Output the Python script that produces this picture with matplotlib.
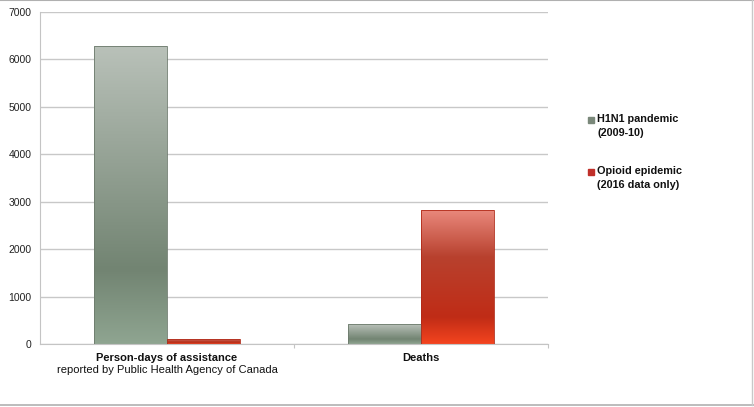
import matplotlib.pyplot as plt
import numpy as np
from matplotlib.colors import LinearSegmentedColormap
from matplotlib.patches import Rectangle

categories = ['Person-days of assistance', 'Deaths']
subtitles = ['reported by Public Health Agency of Canada', '']
h1n1 = [6280, 420]
opioid = [100, 2815]
series_names = ['H1N1 pandemic\n(2009-10)', 'Opioid epidemic\n(2016 data only)']

plt.rcParams['font.family'] = ['Liberation Sans', 'DejaVu Sans']

fig = plt.figure(figsize=(7.54, 4.07), dpi=100)
ax = fig.add_axes([40 / 754, 63 / 407, 508 / 754, 332 / 407])

gray_cmap = LinearSegmentedColormap.from_list(
    'g', [(0, '#b9c1b9'), (0.75, '#728472'), (1, '#8fa591')])
red_cmap = LinearSegmentedColormap.from_list(
    'r', [(0, '#e9887c'), (0.35, '#b8412e'), (0.8, '#c02c16'), (1, '#f4441f')])

x = np.arange(len(categories))
w = 0.287
b1 = ax.bar(x - w / 2, h1n1, w, color='none', edgecolor='#6c7a6c', linewidth=0.6, zorder=3)
b2 = ax.bar(x + w / 2, opioid, w, color='none', edgecolor='#b02a18', linewidth=0.6, zorder=3)

grad = np.linspace(0, 1, 256).reshape(-1, 1)
for bars, cmap in [(b1, gray_cmap), (b2, red_cmap)]:
    for p in bars:
        x0, y0 = p.get_x(), p.get_y()
        x1, y1 = x0 + p.get_width(), y0 + p.get_height()
        im = ax.imshow(grad, cmap=cmap, extent=(x0, x1, y0, y1), aspect='auto',
                       origin='upper', zorder=2)
        im.set_clip_path(p)

ax.set_xlim(-0.5, 1.5)
ax.set_ylim(0, 7000)
ax.set_yticks(range(0, 7001, 1000))
ax.yaxis.grid(True, color='#c8c8c8', linewidth=1, zorder=0)
ax.set_axisbelow(True)
for s in ['top', 'right']:
    ax.spines[s].set_visible(False)
ax.spines['left'].set_color('#c4c4c4')
ax.spines['bottom'].set_color('#c4c4c4')
ax.tick_params(axis='y', length=0, labelsize=7.5, pad=6, labelcolor='#222222')
ax.set_xticks([0.5, 1.5])
ax.set_xticklabels([])
ax.tick_params(axis='x', length=3, color='#c4c4c4', direction='out')

for i, (c, s) in enumerate(zip(categories, subtitles)):
    ax.text(i, -0.028, c, transform=ax.get_xaxis_transform(), ha='center', va='top',
            fontsize=8, fontweight='bold', color='#111111')
    if s:
        ax.text(i, -0.064, s, transform=ax.get_xaxis_transform(), ha='center', va='top',
                fontsize=8, color='#111111')

# legend
for name, col, ly in [(series_names[0], '#7a887a', 120), (series_names[1], '#c0302a', 172)]:
    fig.patches.append(Rectangle((588 / 754, 1 - (ly + 3) / 407), 6 / 754, 6 / 407,
                                 transform=fig.transFigure, color=col))
    fig.text(597 / 754, 1 - (ly - 6) / 407, name, ha='left', va='top', fontsize=7.8,
             fontweight='bold', color='#111111', linespacing=1.45)

# outer frame
fig.add_artist(plt.Line2D([0, 1], [0.999, 0.999], color='#b0b0b0', linewidth=1.5,
                          transform=fig.transFigure))
fig.add_artist(plt.Line2D([0, 1], [1 - 405 / 407] * 2, color='#b0b0b0', linewidth=1.2,
                          transform=fig.transFigure))
fig.add_artist(plt.Line2D([752 / 754] * 2, [1 - 405 / 407, 1], color='#c8c8c8',
                          linewidth=1, transform=fig.transFigure))

fig.savefig('out.png', dpi=100)
